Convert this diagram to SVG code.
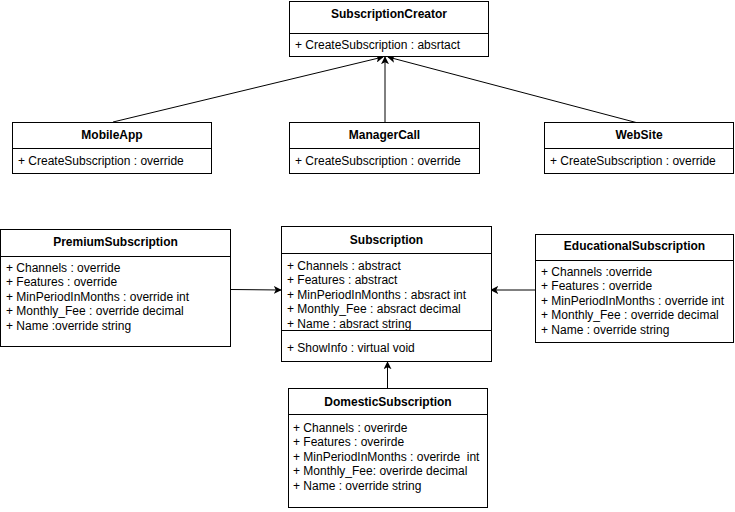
<svg xmlns="http://www.w3.org/2000/svg" width="735" height="512" viewBox="0 0 735 512">
<defs>
<style>
.box{fill:#fff;stroke:#000;stroke-width:1}
.div{stroke:#000;stroke-width:1}
.t{font-family:"Liberation Sans",Arial,sans-serif;font-size:12px;font-weight:bold;text-anchor:middle;fill:#000}
.a{font-family:"Liberation Sans",Arial,sans-serif;font-size:12px;fill:#000;white-space:pre}
.c{stroke:#000;stroke-width:1;fill:none;marker-end:url(#arr)}
</style>
<marker id="arr" viewBox="0 0 10 10" refX="9" refY="5" markerWidth="8" markerHeight="8" markerUnits="userSpaceOnUse" orient="auto">
<path d="M0,0 L10,5 L0,10 L2.5,5 z" fill="#000"/>
</marker>
</defs>
<g id="connectors">
<line class="c" x1="113" y1="122" x2="383" y2="57"/>
<line class="c" x1="385" y1="123" x2="385" y2="57"/>
<line class="c" x1="638" y1="123" x2="388" y2="57"/>
<line class="c" x1="231" y1="289.5" x2="281" y2="290"/>
<line class="c" x1="535" y1="290" x2="491" y2="290"/>
<line class="c" x1="387.5" y1="388" x2="387.5" y2="362"/>
</g>
<g id="SubscriptionCreator">
<rect class="box" x="289.5" y="1.5" width="199" height="55"/>
<line class="div" x1="289.5" y1="33.5" x2="488.5" y2="33.5"/>
<text class="t" x="389" y="18">SubscriptionCreator</text>
<text class="a" x="295" y="49">+ CreateSubscription : absrtact</text>
</g>
<g id="MobileApp">
<rect class="box" x="12.5" y="122.5" width="199" height="51"/>
<line class="div" x1="12.5" y1="148.5" x2="211.5" y2="148.5"/>
<text class="t" x="112" y="139">MobileApp</text>
<text class="a" x="18" y="165">+ CreateSubscription : override</text>
</g>
<g id="ManagerCall">
<rect class="box" x="289.5" y="122.5" width="190" height="51"/>
<line class="div" x1="289.5" y1="148.5" x2="479.5" y2="148.5"/>
<text class="t" x="384.5" y="139">ManagerCall</text>
<text class="a" x="295" y="165">+ CreateSubscription : override</text>
</g>
<g id="WebSite">
<rect class="box" x="544.5" y="122.5" width="189" height="51"/>
<line class="div" x1="544.5" y1="148.5" x2="733.5" y2="148.5"/>
<text class="t" x="639" y="139">WebSite</text>
<text class="a" x="550" y="165">+ CreateSubscription : override</text>
</g>
<g id="PremiumSubscription">
<rect class="box" x="0.5" y="229.5" width="230" height="117"/>
<line class="div" x1="0.5" y1="256.5" x2="230.5" y2="256.5"/>
<text class="t" x="115.5" y="246">PremiumSubscription</text>
<text class="a" x="6" y="271.5">+ Channels : override</text>
<text class="a" x="6" y="286">+ Features : override</text>
<text class="a" x="6" y="300.5">+ MinPeriodInMonths : override int</text>
<text class="a" x="6" y="315">+ Monthly_Fee : override decimal</text>
<text class="a" x="6" y="329.5">+ Name :override string</text>
</g>
<g id="Subscription">
<rect class="box" x="281.5" y="226.5" width="210" height="135"/>
<line class="div" x1="281.5" y1="253.5" x2="491.5" y2="253.5"/>
<line class="div" x1="281.5" y1="330.5" x2="491.5" y2="330.5"/>
<text class="t" x="386.5" y="244">Subscription</text>
<text class="a" x="287" y="269.5">+ Channels : abstract</text>
<text class="a" x="287" y="284">+ Features : abstract</text>
<text class="a" x="287" y="298.5">+ MinPeriodInMonths : absract int</text>
<text class="a" x="287" y="313">+ Monthly_Fee : absract decimal</text>
<text class="a" x="287" y="327.5">+ Name : absract string</text>
<text class="a" x="287" y="351.5">+ ShowInfo : virtual void</text>
</g>
<g id="EducationalSubscription">
<rect class="box" x="535.5" y="234.5" width="198" height="108"/>
<line class="div" x1="535.5" y1="260.5" x2="733.5" y2="260.5"/>
<text class="t" x="634.5" y="250">EducationalSubscription</text>
<text class="a" x="541" y="275.5">+ Channels :override</text>
<text class="a" x="541" y="290">+ Features : override</text>
<text class="a" x="541" y="304.5">+ MinPeriodInMonths : override int</text>
<text class="a" x="541" y="319">+ Monthly_Fee : override decimal</text>
<text class="a" x="541" y="333.5">+ Name : override string</text>
</g>
<g id="DomesticSubscription">
<rect class="box" x="288.5" y="388.5" width="199" height="119"/>
<line class="div" x1="288.5" y1="414.5" x2="487.5" y2="414.5"/>
<text class="t" x="388" y="406">DomesticSubscription</text>
<text class="a" x="293" y="431.5">+ Channels : overirde</text>
<text class="a" x="293" y="446">+ Features : overirde</text>
<text class="a" x="293" y="460.5" xml:space="preserve">+ MinPeriodInMonths : overirde  int</text>
<text class="a" x="293" y="475">+ Monthly_Fee: overirde decimal</text>
<text class="a" x="293" y="489.5">+ Name : override string</text>
</g>
</svg>
